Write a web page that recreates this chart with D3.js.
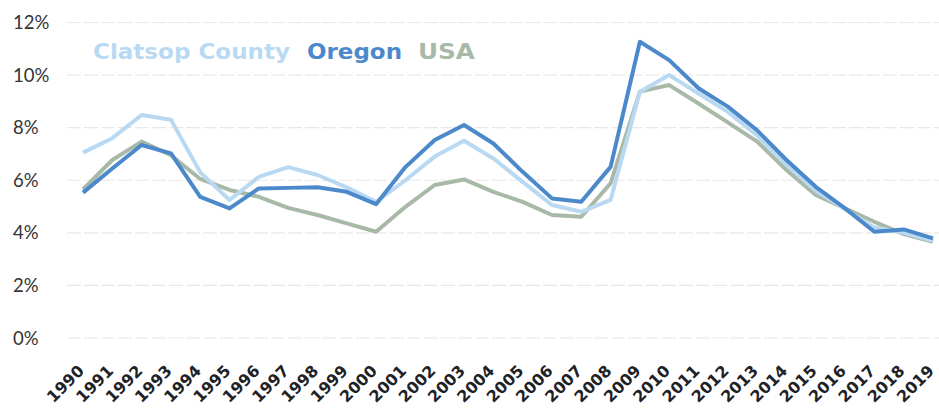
<!DOCTYPE html>
<html lang="en">
<head>
    <meta charset="UTF-8">
    <title>unemployment</title>
    <script src="https://cdn.jsdelivr.net/npm/d3@7"></script>
    <style>
        body { margin: 0; background: #fff; }
    </style>
</head>
<body>
<svg width="939" height="408" id="chart"></svg>
<script>
    // years on the x axis
    const years = d3.range(1990, 2020).map(String);

    // unemployment rate, %
    const clatsop = [7.05, 7.6, 8.48, 8.3, 6.3, 5.25, 6.13, 6.5, 6.2, 5.73, 5.18, 6.0, 6.9, 7.5, 6.83,
        5.94, 5.06, 4.8, 5.25, 9.37, 10.0, 9.3, 8.6, 7.7, 6.6, 5.6, 4.9, 4.2, 4.0, 3.7];
    const oregon = [5.53, 6.45, 7.34, 7.02, 5.37, 4.93, 5.69, 5.71, 5.73, 5.56, 5.09, 6.5, 7.53, 8.1, 7.4,
        6.32, 5.31, 5.18, 6.51, 11.27, 10.57, 9.5, 8.8, 7.9, 6.77, 5.75, 4.93, 4.04, 4.13, 3.79];
    const usa = [5.65, 6.77, 7.47, 6.95, 6.05, 5.63, 5.37, 4.95, 4.68, 4.36, 4.04, 4.99, 5.82, 6.03, 5.56,
        5.18, 4.68, 4.61, 5.88, 9.37, 9.62, 8.92, 8.2, 7.47, 6.39, 5.44, 4.93, 4.42, 3.95, 3.66];

    const seriesNames = ["Clatsop County", "Oregon", "USA"];
    const seriesColors = ["#b9d9f3", "#4c89cb", "#a9b9a7"];
    const yTicks = [0, 2, 4, 6, 8, 10, 12];

    const svg = d3.select("#chart");

    const x = d3.scalePoint().domain(years).range([83, 933]);
    const y = d3.scaleLinear().domain([0, 12]).range([338, 22.5]);

    // grid lines
    svg.append("g").selectAll("line")
        .data(yTicks)
        .join("line")
        .attr("x1", 67).attr("x2", 939)
        .attr("y1", d => y(d)).attr("y2", d => y(d))
        .attr("stroke", "#e8e8e8")
        .attr("stroke-width", 1.2)
        .attr("stroke-dasharray", "14 3");

    // y labels
    svg.append("g").selectAll("text")
        .data(yTicks)
        .join("text")
        .attr("x", 13)
        .attr("y", d => y(d))
        .attr("dy", "0.36em")
        .style("font-family", "Lato, 'Open Sans', sans-serif")
        .style("font-size", "18.5px")
        .style("fill", "#333")
        .text(d => d + "%");

    // x labels, rotated
    svg.append("g").selectAll("text")
        .data(years)
        .join("text")
        .attr("transform", d => `translate(${x(d) + 2},${372}) rotate(-45)`)
        .attr("text-anchor", "end")
        .style("font-family", "'DejaVu Sans', sans-serif")
        .style("font-weight", "bold")
        .style("font-size", "16px")
        .style("fill", "#1e2226")
        .text(d => d);

    // lines
    const line = d3.line()
        .x((d, i) => x(years[i]))
        .y(d => y(d));

    const allSeries = [usa, clatsop, oregon];
    const drawColors = [seriesColors[2], seriesColors[0], seriesColors[1]];
    svg.append("g").selectAll("path")
        .data(allSeries)
        .join("path")
        .attr("d", d => line(d))
        .attr("fill", "none")
        .attr("stroke", (d, i) => drawColors[i])
        .attr("stroke-width", 4)
        .attr("stroke-linejoin", "round");

    // legend
    const legendX = [93, 307, 418];
    const legendW = [197, 95, 57];
    svg.append("g").selectAll("text")
        .data(seriesNames)
        .join("text")
        .attr("x", (d, i) => legendX[i])
        .attr("y", 59)
        .attr("textLength", (d, i) => legendW[i])
        .attr("lengthAdjust", "spacingAndGlyphs")
        .style("font-family", "'DejaVu Sans', sans-serif")
        .style("font-weight", "bold")
        .style("font-size", "21px")
        .style("fill", (d, i) => seriesColors[i])
        .text(d => d);
</script>
</body>
</html>
